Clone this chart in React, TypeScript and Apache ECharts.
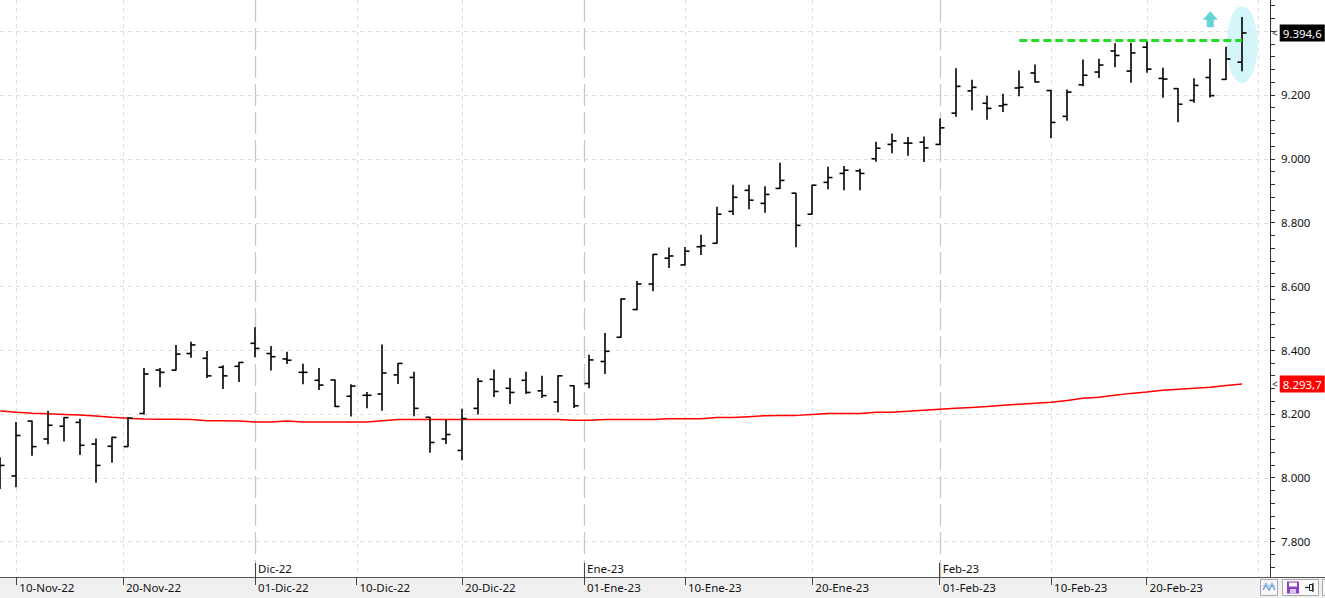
import { useEffect, useRef } from 'react';
import * as echarts from 'echarts';

// ---- data (IBEX-style daily OHLC, 09-Nov-22 .. 28-Feb-23) ----
const dates = [
  '2022-11-09','2022-11-10','2022-11-11','2022-11-14','2022-11-15','2022-11-16','2022-11-17','2022-11-18',
  '2022-11-21','2022-11-22','2022-11-23','2022-11-24','2022-11-25','2022-11-28','2022-11-29','2022-11-30',
  '2022-12-01','2022-12-02','2022-12-05','2022-12-06','2022-12-07','2022-12-08','2022-12-09','2022-12-12',
  '2022-12-13','2022-12-14','2022-12-15','2022-12-16','2022-12-19','2022-12-20','2022-12-21','2022-12-22',
  '2022-12-23','2022-12-27','2022-12-28','2022-12-29','2022-12-30','2023-01-02','2023-01-03','2023-01-04',
  '2023-01-05','2023-01-06','2023-01-09','2023-01-10','2023-01-11','2023-01-12','2023-01-13','2023-01-16',
  '2023-01-17','2023-01-18','2023-01-19','2023-01-20','2023-01-23','2023-01-24','2023-01-25','2023-01-26',
  '2023-01-27','2023-01-30','2023-01-31','2023-02-01','2023-02-02','2023-02-03','2023-02-06','2023-02-07',
  '2023-02-08','2023-02-09','2023-02-10','2023-02-13','2023-02-14','2023-02-15','2023-02-16','2023-02-17',
  '2023-02-20','2023-02-21','2023-02-22','2023-02-23','2023-02-24','2023-02-27','2023-02-28',
];
const opens = [
  8030, 8005, 8177, 8121, 8161, 8173, 8105, 8098, 8097, 8201, 8337, 8337, 8389, 8374, 8346, 8349,
  8421, 8389, 8372, 8330, 8305, 8306, 8255, 8258, 8262, 8322, 8314, 8189, 8121, 8085, 8217, 8308,
  8280, 8305, 8272, 8237, 8288, 8295, 8364, 8440, 8527, 8607, 8688, 8667, 8724, 8735, 8835, 8901,
  8860, 8907, 8892, 8826, 8926, 8954, 8962, 9000, 9045, 9049, 9052, 9045, 9143, 9213, 9174, 9166,
  9222, 9269, 9214, 9133, 9232, 9272, 9338, 9275, 9350, 9252, 9220, 9183, 9255, 9249, 9303,
];
const highs = [
  8062, 8173, 8177, 8208, 8188, 8183, 8121, 8126, 8188, 8342, 8342, 8414, 8424, 8395, 8351, 8361,
  8470, 8411, 8393, 8355, 8342, 8306, 8291, 8267, 8416, 8358, 8330, 8189, 8180, 8214, 8311, 8337,
  8311, 8330, 8318, 8319, 8288, 8384, 8452, 8560, 8615, 8700, 8720, 8722, 8760, 8848, 8917, 8917,
  8912, 8986, 8892, 8917, 8973, 8976, 8967, 9052, 9078, 9067, 9068, 9125, 9282, 9246, 9196, 9202,
  9275, 9294, 9214, 9216, 9310, 9312, 9361, 9362, 9367, 9284, 9220, 9251, 9312, 9350, 9443,
];
const lows = [
  7966, 7971, 8070, 8106, 8115, 8072, 7985, 8048, 8097, 8199, 8285, 8337, 8377, 8314, 8279, 8301,
  8379, 8337, 8358, 8294, 8276, 8223, 8193, 8219, 8211, 8295, 8194, 8079, 8107, 8056, 8199, 8254,
  8232, 8264, 8251, 8206, 8220, 8282, 8326, 8440, 8526, 8586, 8659, 8667, 8700, 8735, 8825, 8843,
  8832, 8907, 8724, 8826, 8906, 8903, 8903, 8992, 9019, 9011, 8991, 9045, 9133, 9154, 9124, 9148,
  9198, 9241, 9067, 9121, 9229, 9255, 9289, 9240, 9271, 9193, 9116, 9177, 9194, 9249, 9276,
];
const closes = [
  8038, 8132, 8097, 8164, 8188, 8101, 8038, 8126, 8186, 8325, 8330, 8387, 8416, 8319, 8319, 8361,
  8405, 8379, 8368, 8330, 8290, 8223, 8287, 8258, 8328, 8358, 8217, 8110, 8135, 8185, 8302, 8270,
  8267, 8267, 8257, 8319, 8225, 8369, 8396, 8560, 8607, 8700, 8695, 8710, 8727, 8826, 8879, 8870,
  8888, 8932, 8791, 8917, 8941, 8964, 8954, 9033, 9056, 9049, 9034, 9097, 9227, 9224, 9158, 9170,
  9224, 9241, 9114, 9209, 9262, 9294, 9324, 9332, 9281, 9250, 9171, 9230, 9198, 9313, 9394.6,
];
const movingAverage = [
  8209, 8205, 8202, 8200, 8198, 8196, 8193, 8189, 8186, 8184, 8183, 8183, 8182, 8178, 8178, 8177,
  8174, 8174, 8177, 8174, 8174, 8174, 8174, 8174, 8178, 8182, 8182, 8182, 8182, 8182, 8182, 8182,
  8182, 8182, 8182, 8182, 8180, 8180, 8182, 8182, 8182, 8182, 8184.5, 8184.5, 8184.5, 8188, 8188, 8191,
  8194, 8195, 8195, 8198, 8201, 8201, 8201, 8204.6, 8204.6, 8207.7, 8211, 8214, 8217, 8220, 8223, 8226.5,
  8230, 8233, 8236, 8242, 8248.5, 8251.6, 8258, 8264, 8268, 8273.6, 8276.7, 8280, 8283, 8289, 8293.7,
];

// x-axis ticks (position in trading-day index; weekend dates fall between bars)
const dayTickPos = [1, 7.7, 16, 22.37, 29, 36.66, 43, 51, 59, 66, 72];
const dayTickLabels = [
  '10-Nov-22', '20-Nov-22', '01-Dic-22', '10-Dic-22', '20-Dic-22', '01-Ene-23',
  '10-Ene-23', '20-Ene-23', '01-Feb-23', '10-Feb-23', '20-Feb-23',
];
const monthTickPos = [16, 36.66, 59];
const monthTickLabels = ['Dic-22', 'Ene-23', 'Feb-23'];
const futureGridPos = [79];

// y-axis
const priceGridValues = [7800, 8000, 8200, 8400, 8600, 8800, 9000, 9200, 9400];
const priceLabelValues = [7800, 8000, 8200, 8400, 8600, 8800, 9000, 9200];
const minorTickStep = 40;

// annotations
const resistance = { level: 9372, from: 64, to: 78 };
const highlightPoint = [78, 9358];
const arrowPoint = [76, 9438];
const lastPrice = closes[closes.length - 1];
const lastMA = movingAverage[movingAverage.length - 1];

const X_MIN = -0.024;
const X_MAX = 79.75;
const Y_MIN = 7688;
const Y_MAX = 9498;

const FONT = 'Noto Sans';

function fmtEs(v: number, decimals: number) {
  const neg = v < 0;
  const a = Math.abs(v);
  const fixed = a.toFixed(decimals);
  const [intPart, dec] = fixed.split('.');
  const withDots = intPart.replace(/\B(?=(\d{3})+(?!\d))/g, '.');
  return (neg ? '-' : '') + withDots + (dec ? ',' + dec : '');
}

function lookup(pos: number[], labels: string[], v: number) {
  const k = pos.findIndex((p) => Math.abs(p - v) < 1e-6);
  return k >= 0 ? labels[k] : '';
}

export default function App() {
  const ref = useRef<HTMLDivElement>(null);

  useEffect(() => {
    if (!ref.current) return;
    const chart = echarts.init(ref.current, undefined, { renderer: 'svg' });

    const ohlcData = dates.map((_, i) => [i, opens[i], highs[i], lows[i], closes[i]]);
    const maData = dates.map((_, i) => [i, movingAverage[i]]);

    const yTicks: number[] = [];
    for (let v = Math.ceil(Y_MIN / minorTickStep) * minorTickStep; v <= Y_MAX; v += minorTickStep) yTicks.push(v);

    // gridline records: [orientation (0 = horizontal, 1 = vertical), value, style (0 = light, 1 = month)]
    const gridData: number[][] = [];
    priceGridValues.forEach((v) => gridData.push([0, v, 0]));
    dayTickPos.forEach((p) => { if (!monthTickPos.includes(p)) gridData.push([1, p, 0]); });
    futureGridPos.forEach((p) => gridData.push([1, p, 0]));
    monthTickPos.forEach((p) => gridData.push([1, p, 1]));

    const markerLabel = (bg: string, text: string) => ({
      show: true,
      position: 'end',
      distance: 2,
      formatter: '{a|<}{b|' + text + '}',
      rich: {
        a: { color: '#333', fontSize: 10, fontFamily: FONT, padding: [0, 2, 0, 0] },
        b: {
          color: '#fff', backgroundColor: bg, fontSize: 11.5, fontFamily: FONT,
          padding: [3, 3, 2, 3], lineHeight: 12,
        },
      },
    });

    chart.setOption({
      animation: false,
      textStyle: { fontFamily: FONT },
      grid: { left: 0, right: 55, top: 0, bottom: 21, containLabel: false },
      xAxis: [
        {
          type: 'value', min: X_MIN, max: X_MAX, position: 'bottom',
          axisLine: { show: true, onZero: false, lineStyle: { color: '#555', width: 1 } },
          axisTick: { show: true, customValues: dayTickPos, length: 8, lineStyle: { color: '#444' } },
          axisLabel: {
            customValues: dayTickPos,
            formatter: (v: number) => lookup(dayTickPos, dayTickLabels, v),
            align: 'left', margin: 4, padding: [0, 0, 0, 3],
            color: '#111', fontSize: 11.5, fontFamily: FONT, hideOverlap: false,
          },
          splitLine: { show: false },
        },
        {
          type: 'value', min: X_MIN, max: X_MAX, position: 'bottom',
          axisLine: { show: false, onZero: false },
          axisTick: { show: true, inside: true, customValues: monthTickPos, length: 14, lineStyle: { color: '#444' } },
          axisLabel: {
            inside: true,
            customValues: monthTickPos,
            formatter: (v: number) => lookup(monthTickPos, monthTickLabels, v),
            align: 'left', margin: 3, padding: [0, 0, 0, 3],
            color: '#111', fontSize: 11.5, fontFamily: FONT, hideOverlap: false,
          },
          splitLine: { show: false },
        },
      ],
      yAxis: {
        type: 'value', position: 'right', min: Y_MIN, max: Y_MAX,
        axisLine: { show: true, onZero: false, lineStyle: { color: '#333', width: 1 } },
        axisTick: { show: true, customValues: yTicks, length: 5, lineStyle: { color: '#333' } },
        axisLabel: {
          customValues: priceLabelValues,
          formatter: (v: number) => fmtEs(v, 0),
          margin: 11, color: '#111', fontSize: 11.5, fontFamily: FONT,
        },
        splitLine: { show: false },
      },
      series: [
        {
          name: 'grid', type: 'custom', z: 0, silent: true, clip: true,
          data: gridData,
          encode: { x: 1 },
          renderItem: (params: any, api: any) => {
            const cs = params.coordSys;
            const orient = api.value(0);
            const v = api.value(1);
            const month = api.value(2) === 1;
            const style = month
              ? { stroke: '#c8c8c8', lineWidth: 1.3, lineDash: [22, 6] }
              : { stroke: '#dedede', lineWidth: 1, lineDash: [4, 4] };
            if (orient === 0) {
              const y = Math.round(api.coord([X_MIN, v])[1]) + 0.5;
              return { type: 'line', shape: { x1: cs.x, y1: y, x2: cs.x + cs.width, y2: y }, style };
            }
            const x = Math.round(api.coord([v, Y_MIN])[0]) + 0.5;
            return { type: 'line', shape: { x1: x, y1: cs.y, x2: x, y2: cs.y + cs.height }, style };
          },
        },
        {
          name: 'highlight', type: 'scatter', data: [highlightPoint], symbol: 'circle',
          symbolSize: [31, 77], itemStyle: { color: '#c9f4fa' }, silent: true, z: 1,
        },
        {
          name: 'arrow', type: 'scatter', data: [arrowPoint],
          symbol: 'path://M7.5,0 L15,8.5 L11,8.5 L11,16 L4,16 L4,8.5 L0,8.5 Z',
          symbolSize: [15, 16], itemStyle: { color: '#3cc8c8' }, silent: true, z: 1,
        },
        {
          name: 'MA', type: 'line', data: maData, symbol: 'none', silent: true, z: 2,
          lineStyle: { color: '#ff0000', width: 1.5 },
          markLine: {
            silent: true, symbol: ['none', 'none'], animation: false,
            lineStyle: { color: 'rgba(0,0,0,0)', width: 1 },
            data: [{ yAxis: lastMA, label: markerLabel('#ff0000', fmtEs(lastMA, 1)) }],
          },
        },
        {
          name: 'OHLC', type: 'custom', z: 3, clip: true, silent: true,
          data: ohlcData,
          encode: { x: 0, y: [1, 2, 3, 4] },
          renderItem: (_params: any, api: any) => {
            const i = api.value(0);
            const pO = api.coord([i, api.value(1)]);
            const pH = api.coord([i, api.value(2)]);
            const pL = api.coord([i, api.value(3)]);
            const pC = api.coord([i, api.value(4)]);
            const x = Math.round(pH[0]);
            const t = 4.5;
            const style = { stroke: '#000', lineWidth: 1.6 };
            return {
              type: 'group',
              children: [
                { type: 'line', shape: { x1: x, y1: pH[1] - 0.5, x2: x, y2: pL[1] + 0.5 }, style },
                { type: 'line', shape: { x1: x - t, y1: pO[1], x2: x, y2: pO[1] }, style },
                { type: 'line', shape: { x1: x, y1: pC[1], x2: x + t, y2: pC[1] }, style },
              ],
            };
          },
        },
        {
          name: 'levels', type: 'line', data: [], silent: true, z: 4,
          markLine: {
            silent: true, symbol: ['none', 'none'], animation: false,
            data: [
              [
                { coord: [resistance.from, resistance.level], lineStyle: { color: '#22dd22', width: 3, type: [8, 4] }, label: { show: false } },
                { coord: [resistance.to, resistance.level] },
              ],
              { yAxis: lastPrice, lineStyle: { color: 'rgba(0,0,0,0)', width: 1 }, label: markerLabel('#000000', fmtEs(lastPrice, 1)) },
            ],
          },
        },
      ],
      graphic: [
        { type: 'line', shape: { x1: 1270, y1: 577.5, x2: 1325, y2: 577.5 }, style: { stroke: '#555', lineWidth: 1 }, silent: true },
        { type: 'rect', shape: { x: 1260.5, y: 579.5, width: 17, height: 16 }, style: { fill: '#f7f7f7', stroke: '#a8a8a8' }, silent: true },
        { type: 'polyline', shape: { points: [[1263, 590], [1266, 585], [1269, 590], [1272, 585], [1275, 590]] }, style: { stroke: '#5b8fd6', lineWidth: 1.2, fill: 'none' }, silent: true },
        { type: 'polyline', shape: { points: [[1263, 587], [1266, 582.5], [1269, 587], [1272, 582.5], [1275, 587]] }, style: { stroke: '#9cc0ec', lineWidth: 1, fill: 'none' }, silent: true },
        { type: 'rect', shape: { x: 1282.5, y: 579.5, width: 36, height: 16 }, style: { fill: '#fafafa', stroke: '#a8a8a8' }, silent: true },
        { type: 'rect', shape: { x: 1287, y: 581.5, width: 12, height: 12 }, style: { fill: '#8b3fc0' }, silent: true },
        { type: 'rect', shape: { x: 1289, y: 582.5, width: 8, height: 4 }, style: { fill: '#ffffff' }, silent: true },
        { type: 'rect', shape: { x: 1290, y: 589, width: 6, height: 4.5 }, style: { fill: '#d8c4ea' }, silent: true },
        { type: 'polyline', shape: { points: [[1305, 587.5], [1309, 587.5]] }, style: { stroke: '#222', lineWidth: 1.2 }, silent: true },
        { type: 'rect', shape: { x: 1309.5, y: 584.5, width: 3, height: 6 }, style: { fill: 'none', stroke: '#222', lineWidth: 1 }, silent: true },
        { type: 'polyline', shape: { points: [[1313, 583], [1313, 592]] }, style: { stroke: '#222', lineWidth: 1.2 }, silent: true },
        { type: 'rect', shape: { x: 1322.5, y: 579.5, width: 10, height: 16 }, style: { fill: '#fafafa', stroke: '#a8a8a8' }, silent: true },
      ],
    });

    return () => chart.dispose();
  }, []);

  return (
    <div style={{ position: 'fixed', left: 0, top: 0, width: 1325, height: 598, background: '#ffffff' }}>
      <div style={{ position: 'absolute', left: 0, top: 578, width: 1325, height: 20, background: '#f0f0f0' }} />
      <div ref={ref} style={{ position: 'absolute', left: 0, top: 0, width: 1325, height: 598 }} />
    </div>
  );
}
